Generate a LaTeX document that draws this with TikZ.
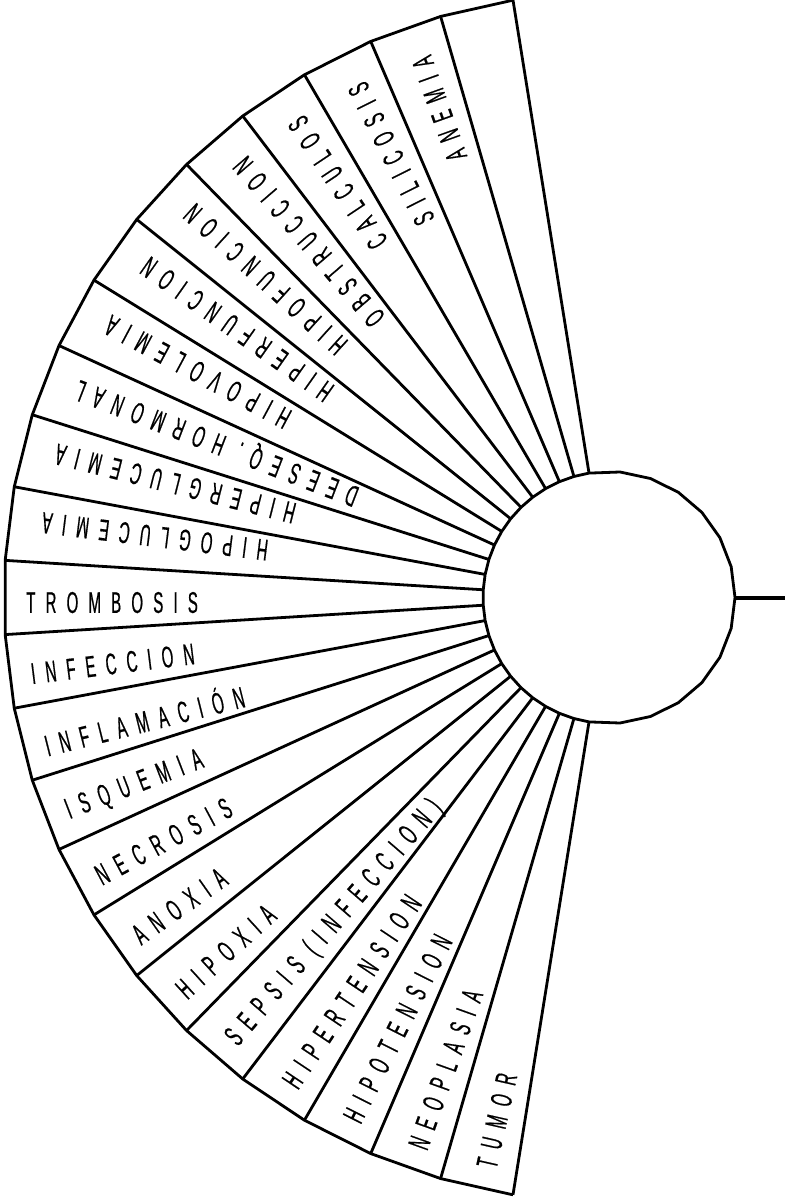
\documentclass[tikz,border=0pt]{standalone}
\usepackage{fontspec}
\newfontfamily\labfont{Liberation Sans}[FakeStretch=0.5,LetterSpace=34,FakeBold=0.5]
\tikzset{
  fanline/.style={line width=2.8pt, black},
  stemline/.style={line width=4pt, black},
  lab/.style={font=\labfont\fontsize{30}{32}\selectfont, inner sep=0pt, text=black}
}
\begin{document}
\begin{tikzpicture}[x=1pt,y=1pt]
\useasboundingbox (0,-1201) rectangle (792,0);
\fill[white] (0,-1201) rectangle (792,0);
\begin{scope}[shift={(609,-597.5)}]
  % rays
  \foreach \k in {0,...,23}{
    \pgfmathsetmacro\a{99.13+7.032*\k}
    \draw[fanline] (\a:126) -- (\a:605);
  }
  % outer boundary
  \draw[fanline] (99.13:605) \foreach \k in {1,...,23}{ -- ({99.13+7.032*\k}:605)};
  % hub polygon
  \draw[fanline, fill=white] (99.13:126) \foreach \k in {1,...,23}{ -- ({99.13+7.032*\k}:126)}
     \foreach \j in {1,...,13}{ -- ({260.87+14.161*\j}:126)} -- cycle;
  \coordinate (hubR) at (0:126);
  \coordinate (stemEnd) at (0:176);
  \draw[stemline] (hubR) -- (stemEnd);
  % labels
  \foreach \t [count=\k from 2] in {ANEMIA,SILICOSIS,CALCULOS,OBSTRUCCION,HIPOFUNCION,HIPERFUNCION,HIPOVOLEMIA,DEESEQ. HORMONAL,HIPERGLUCEMIA,HIPOGLUCEMIA,TROMBOSIS,INFECCION,INFLAMACIÓN,ISQUEMIA,NECROSIS,ANOXIA,HIPOXIA,SEPSIS (INFECCION),HIPERTENSION,HIPOTENSION,NEOPLASIA,TUMOR}{
    \pgfmathsetmacro\th{99.13+7.032*(\k-0.5)}
    \ifnum\k<12
      \node[lab, rotate=\th, anchor=east] (lab\k) at ({\th-0.5}:572) {\t};
    \else
      \node[lab, rotate=\th-180, anchor=west] (lab\k) at ({\th+0.5}:583) {\t};
    \fi
  }
\end{scope}
\end{tikzpicture}
\end{document}
